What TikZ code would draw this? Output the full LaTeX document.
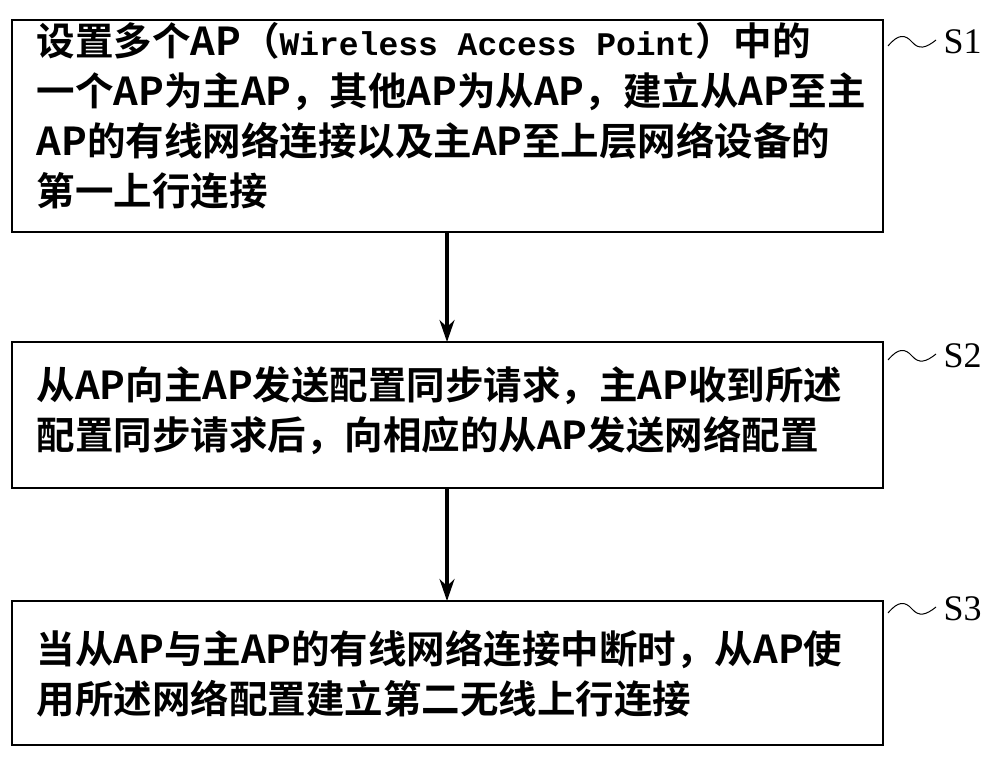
\documentclass[tikz,border=0pt]{standalone}
\usepackage{fontspec}
\setmainfont{Liberation Serif}
\newfontfamily\cjk{Noto Sans CJK SC Bold}
\newfontfamily\cjkm{Liberation Mono}
\usetikzlibrary{arrows.meta}
\begin{document}
\begin{tikzpicture}[x=1pt,y=-1pt,
  box/.style={draw,line width=1.3pt,align=left,inner sep=0pt,font=\cjk\fontsize{38.5}{50}\selectfont},
  arr/.style={-{Stealth[length=22pt,width=15pt]},line width=3.5pt},
  lab/.style={font=\fontsize{36}{36}\selectfont,anchor=west}]
\useasboundingbox (0,0) rectangle (1000,761);
\draw[line width=1.5pt] (12,20) rectangle (883,232);
\node[box,draw=none,anchor=north west] (t1) at (36,22) {设置多个AP（{\bfseries\cjkm\fontsize{33}{50}\selectfont Wireless Access Point}）中的\\一个AP为主AP，其他AP为从AP，建立从AP至主\\AP的有线网络连接以及主AP至上层网络设备的\\第一上行连接};
\coordinate (b1t) at (447,20); \coordinate (b1b) at (447,232);
\draw[line width=1.5pt] (12,342) rectangle (883,488);
\node[box,draw=none,anchor=north west] (t2) at (36,366) {从AP向主AP发送配置同步请求，主AP收到所述\\配置同步请求后，向相应的从AP发送网络配置};
\coordinate (b2t) at (447,342); \coordinate (b2b) at (447,488);
\draw[line width=1.5pt] (12,601) rectangle (883,745);
\node[box,draw=none,anchor=north west] (t3) at (36,630) {当从AP与主AP的有线网络连接中断时，从AP使\\用所述网络配置建立第二无线上行连接};
\coordinate (b3t) at (447,601);
\draw[arr] (b1b) -- (b2t);
\draw[arr] (b2b) -- (b3t);
\foreach \y/\s in {42/S1,356/S2,609/S3}{
  \draw[line width=1pt] (888,\y+4) .. controls (898,\y-8) and (905,\y-8) .. (912,\y) .. controls (919,\y+8) and (926,\y+6) .. (936,\y-2);
  \node[lab] (l\s) at (940,\y) {\s};
}
\end{tikzpicture}
\end{document}
